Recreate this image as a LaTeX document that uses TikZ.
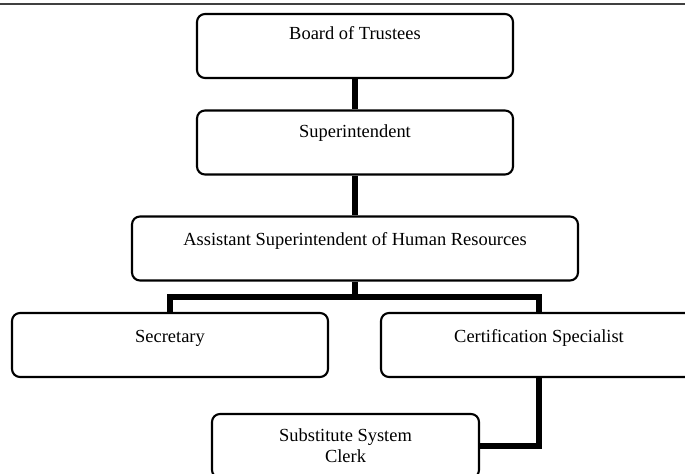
\documentclass[tikz,border=0pt]{standalone}
\usepackage{fontspec}
\setmainfont{Liberation Serif}
\usetikzlibrary{positioning}
\definecolor{ruleColor}{rgb}{0.25,0.25,0.25}

\begin{document}
\begin{tikzpicture}[font=\fontsize{10.5}{13}\selectfont]

          \tikzstyle{orgBox} = [draw, line width=1.2pt, rounded corners=0.16cm, minimum width=6.32cm, minimum height=1.28cm, text height=8pt, text depth=11pt];
          \tikzstyle{wideBox} = [orgBox, minimum width=8.92cm];
          \tikzstyle{clerkBox} = [orgBox, minimum width=5.34cm, text height=, text depth=, align=center, inner sep=0pt];

          \tikzstyle{normalEdge} = [line width=3.1pt];
          \tikzstyle{topRule} = [ruleColor, line width=0.8pt];

          \useasboundingbox (0,0) rectangle (13.7,-9.48);

          \coordinate (ruleL) at (0,-0.08);
          \coordinate (ruleR) at (13.7,-0.08);
          \draw[topRule] (ruleL) -- (ruleR);

          \node[orgBox, text depth=15pt] (board) at (7.10,-0.92) {Board of Trustees};
          \node[orgBox, text depth=14pt] (super) at (7.10,-2.85) {Superintendent};
          \node[wideBox] (asst) at (7.10,-4.97) {Assistant Superintendent of Human Resources};
          \node[orgBox] (sec) at (3.40,-6.90) {Secretary};
          \node[orgBox] (cert) at (10.78,-6.90) {Certification Specialist};
          \node[clerkBox] (clerk) at (6.91,-8.92) {Substitute System\\[-1pt]Clerk};

          \coordinate (fork) at (7.10,-5.94);

          \draw[normalEdge] (board) -- (super);
          \draw[normalEdge] (super) -- (asst);
          \draw[normalEdge] (asst) -- (fork);
          \draw[normalEdge] (sec.north) |- (fork) -| (cert.north);
          \draw[normalEdge] (cert.south) |- (clerk.east);
        \end{tikzpicture}
\end{document}
